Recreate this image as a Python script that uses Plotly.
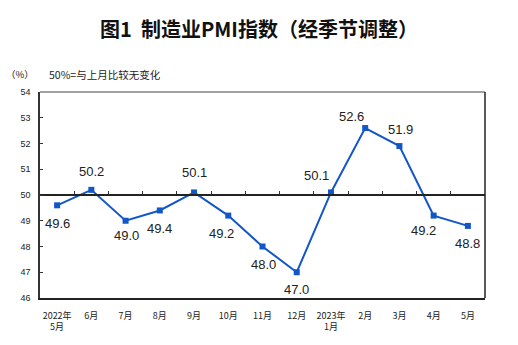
import plotly.graph_objects as go

months = ["2022年<br>5月", "6月", "7月", "8月", "9月", "10月", "11月", "12月",
          "2023年<br>1月", "2月", "3月", "4月", "5月"]
pmi = [49.6, 50.2, 49.0, 49.4, 50.1, 49.2, 48.0, 47.0, 50.1, 52.6, 51.9, 49.2, 48.8]
# label offsets (px) relative to each point
lab_dx = [0, 0, 1, 0, 0, -7, 1, 0, -14, -14, 1, -10, 0]
lab_dy = [-18, 18, -15, -18, 20, -18, -18, -17, 17, 12, 17, -15, -18]
y_ticks = [46, 47, 48, 49, 50, 51, 52, 53, 54]

xs = list(range(len(months)))
CJK = "Noto Sans CJK SC, Arial, sans-serif"
BLUE = "#1256c8"

fig = go.Figure()
fig.add_trace(go.Scatter(
    x=xs, y=pmi, mode="lines+markers",
    line=dict(color=BLUE, width=2),
    marker=dict(symbol="square", size=6, color=BLUE),
    hoverinfo="skip", showlegend=False,
))
# invisible trace for the 50 baseline axis
fig.add_trace(go.Scatter(x=xs, y=pmi, xaxis="x2", mode="none",
                         hoverinfo="skip", showlegend=False))

for x, v, dx, dy in zip(xs, pmi, lab_dx, lab_dy):
    fig.add_annotation(x=x, y=v, text=f"{v:.1f}", showarrow=False,
                       xshift=dx, yshift=dy,
                       font=dict(family="Liberation Sans, Arial", size=13, color="#222"))

fig.add_annotation(xref="paper", yref="paper", x=-0.01, y=1.085,
                   xanchor="right", yanchor="middle", showarrow=False,
                   text="（%）", font=dict(family=CJK, size=9.5, color="#222"))
fig.add_annotation(xref="paper", yref="paper", x=0.016, y=1.085,
                   xanchor="left", yanchor="middle", showarrow=False,
                   text="50%=与上月比较无变化", font=dict(family=CJK, size=10.5, color="#222"))

fig.update_layout(
    width=518, height=345,
    margin=dict(l=40, r=33, t=92, b=47),
    paper_bgcolor="white", plot_bgcolor="white",
    title=dict(text="图1  制造业PMI指数（经季节调整）", x=0.5, xanchor="center",
               y=0.913, yanchor="middle",
               font=dict(family=CJK, size=20, color="#111", weight="bold")),
    xaxis=dict(range=[-0.5, len(months) - 0.5], tickmode="array", tickvals=xs,
               ticktext=months, showgrid=False, zeroline=False,
               showline=True, linecolor="#222", linewidth=1.5, ticks="",
               tickfont=dict(family=CJK, size=9, color="#222"), ticklabelstandoff=8),
    xaxis2=dict(overlaying="x", anchor="free", position=0.5,
                range=[-0.5, len(months) - 0.5], tickmode="array",
                tickvals=[i + 0.5 for i in xs[:-1]], showticklabels=False,
                ticks="inside", ticklen=3, tickcolor="#333", tickwidth=1,
                showline=True, linecolor="#222", linewidth=1.5,
                showgrid=False, zeroline=False),
    yaxis=dict(range=[46, 54], tickmode="array", tickvals=y_ticks,
               showgrid=False, zeroline=False, showline=True,
               linecolor="#333", linewidth=1.5, ticks="inside", ticklen=3,
               tickcolor="#333", tickfont=dict(family="Liberation Sans, Arial", size=9, color="#222"),
               ticklabelstandoff=6),
    shapes=[dict(type="line", xref="paper", yref="paper", x0=0, x1=1, y0=1, y1=1,
                 line=dict(color="#808080", width=1.5)),
            dict(type="line", xref="paper", yref="paper", x0=1, x1=1, y0=0, y1=1,
                 line=dict(color="#222", width=1.5))],
)

fig.write_html("out.html")
